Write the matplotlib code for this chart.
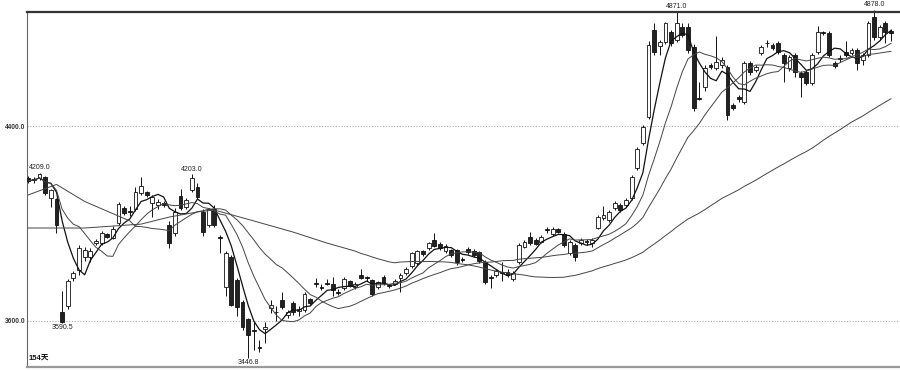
import numpy as np
import pandas as pd
import matplotlib
matplotlib.use("Agg")
import matplotlib.pyplot as plt

# daily OHLC, 154 sessions
opens = [4188, 4178, 4186, 4190, 4104, 4100, 3636, 3660, 3776, 3808,
         3862, 3860, 3920, 3920, 3955, 3940, 4002, 4063, 4049, 4059,
         4125, 4129, 4084, 4076, 4084, 3993, 3960, 4113, 4067, 4137,
         4150, 4047, 3993, 4059, 3946, 3738, 3862, 3767, 3677, 3607,
         3560, 3492, 3566, 3652, 3638, 3685, 3624, 3673, 3640, 3644,
         3689, 3757, 3740, 3757, 3751, 3720, 3734, 3763, 3738, 3788,
         3778, 3767, 3738, 3780, 3745, 3751, 3776, 3796, 3825, 3837,
         3886, 3899, 3932, 3915, 3886, 3890, 3890, 3852, 3895, 3886,
         3882, 3841, 3778, 3788, 3802, 3800, 3771, 3841, 3903, 3945,
         3932, 3924, 3975, 3957, 3977, 3957, 3878, 3911, 3920, 3926,
         3920, 3981, 4022, 4014, 4063, 4075, 4075, 4104, 4227, 4330,
         4437, 4794, 4729, 4745, 4786, 4753, 4807, 4807, 4725, 4517,
         4560, 4651, 4638, 4651, 4642, 4486, 4519, 4499, 4659, 4630,
         4700, 4743, 4733, 4741, 4692, 4638, 4692, 4618, 4622, 4577,
         4704, 4786, 4782, 4659, 4681, 4704, 4700, 4712, 4671, 4692,
         4848, 4766, 4823, 4790]
highs = [4196, 4192, 4209, 4195, 4142, 4106, 3722, 3770, 3805, 3910,
         3905, 3900, 3935, 3968, 3960, 3990, 4088, 4070, 4070, 4150,
         4190, 4135, 4118, 4100, 4092, 4010, 4065, 4140, 4104, 4203,
         4165, 4060, 4065, 4075, 3952, 3885, 3870, 3775, 3685, 3612,
         3596, 3520, 3596, 3685, 3660, 3718, 3645, 3680, 3660, 3718,
         3695, 3775, 3750, 3770, 3780, 3730, 3778, 3768, 3758, 3812,
         3785, 3773, 3765, 3786, 3752, 3770, 3795, 3820, 3884, 3892,
         3892, 3925, 3960, 3922, 3914, 3896, 3896, 3860, 3905, 3893,
         3888, 3850, 3790, 3812, 3840, 3812, 3805, 3918, 3930, 3965,
         3940, 3952, 3985, 3985, 3983, 3965, 3930, 3918, 3940, 3935,
         3940, 4035, 4070, 4055, 4092, 4082, 4104, 4198, 4315, 4405,
         4750, 4823, 4752, 4828, 4795, 4871, 4825, 4825, 4735, 4580,
         4650, 4660, 4770, 4685, 4650, 4495, 4528, 4668, 4668, 4650,
         4733, 4755, 4740, 4748, 4700, 4692, 4698, 4625, 4630, 4700,
         4812, 4792, 4790, 4668, 4690, 4748, 4720, 4720, 4700, 4830,
         4878, 4815, 4830, 4800]
lows = [4165, 4166, 4180, 4115, 4068, 3960, 3590.5, 3650, 3765, 3790,
        3845, 3840, 3912, 3912, 3940, 3935, 3995, 4036, 4030, 4050,
        4115, 4110, 4026, 4060, 4068, 3900, 3950, 4055, 4060, 4130,
        4100, 3948, 3985, 3985, 3880, 3700, 3660, 3620, 3560, 3446.8,
        3480, 3470, 3510, 3632, 3600, 3650, 3612, 3625, 3620, 3638,
        3665, 3740, 3728, 3745, 3700, 3705, 3725, 3738, 3730, 3770,
        3765, 3700, 3730, 3748, 3735, 3745, 3718, 3790, 3818, 3830,
        3868, 3892, 3902, 3892, 3880, 3862, 3830, 3840, 3876, 3862,
        3838, 3750, 3735, 3780, 3765, 3780, 3765, 3835, 3898, 3912,
        3910, 3918, 3960, 3950, 3960, 3905, 3870, 3845, 3912, 3912,
        3905, 3975, 4015, 4005, 4055, 4045, 4068, 4098, 4220, 4322,
        4430, 4690, 4690, 4738, 4730, 4745, 4765, 4700, 4460, 4505,
        4545, 4635, 4630, 4640, 4425, 4466, 4500, 4490, 4610, 4620,
        4690, 4725, 4712, 4695, 4580, 4625, 4600, 4520, 4570, 4570,
        4695, 4775, 4685, 4640, 4665, 4685, 4692, 4630, 4650, 4685,
        4755, 4755, 4740, 4750]
closes = [4175, 4182, 4203, 4125, 4137, 3993, 3594, 3762, 3796, 3900,
          3892, 3888, 3928, 3962, 3946, 3977, 4080, 4043, 4045, 4129,
          4153, 4117, 4109, 4088, 4076, 3920, 4047, 4063, 4096, 4186,
          4108, 3965, 4059, 3993, 3942, 3878, 3665, 3656, 3575, 3542,
          3556, 3488, 3574, 3664, 3634, 3656, 3636, 3636, 3648, 3710,
          3673, 3753, 3736, 3753, 3726, 3716, 3771, 3743, 3751, 3776,
          3774, 3710, 3759, 3755, 3741, 3763, 3788, 3812, 3878, 3886,
          3874, 3919, 3908, 3899, 3907, 3870, 3841, 3848, 3882, 3870,
          3845, 3759, 3774, 3804, 3798, 3788, 3796, 3911, 3924, 3920,
          3916, 3945, 3971, 3977, 3965, 3911, 3924, 3862, 3932, 3922,
          3932, 4026, 4034, 4047, 4084, 4055, 4096, 4190, 4305, 4396,
          4733, 4704, 4745, 4823, 4741, 4823, 4774, 4712, 4474, 4513,
          4638, 4642, 4663, 4671, 4445, 4474, 4511, 4659, 4622, 4642,
          4725, 4739, 4720, 4704, 4659, 4684, 4622, 4601, 4577, 4692,
          4786, 4782, 4692, 4647, 4677, 4692, 4712, 4659, 4692, 4823,
          4766, 4807, 4786, 4782]

# start of the slow averages (needs history before the visible window)
ma20_head_idx = [0, 5, 10, 15, 18]
ma20_head = [4117, 4160, 4090, 4040, 4010]
ma60_head_idx = [0, 10, 20, 25, 30, 33, 40, 47, 53, 58]
ma60_head = [3981, 3981, 3997, 4026, 4047, 4055, 4010, 3964, 3919, 3886]

# marked extremes: (index, price, above?)
marks = [(2, 4209.0, True), (6, 3590.5, False), (29, 4203.0, True),
         (39, 3446.8, False), (115, 4871.0, True), (150, 4878.0, True)]

df = pd.DataFrame({'open': opens, 'high': highs, 'low': lows, 'close': closes})
n = len(df)
x = np.arange(n)

ma5 = df['close'].rolling(5, min_periods=1).mean()
ma10 = df['close'].rolling(10, min_periods=1).mean()
ma20 = df['close'].rolling(20).mean()
ma60 = df['close'].rolling(60).mean()

fig = plt.figure(figsize=(9, 3.71), dpi=100)
ax = fig.add_axes([27 / 900, 4 / 371, 873 / 900, 355 / 371])

# wicks
ax.vlines(x, df['low'], df['high'], color='#111111', lw=0.7, zorder=2, clip_on=False)

up = df['close'] >= df['open']
body_lo = np.minimum(df['open'], df['close'])
body_h = np.maximum((df['close'] - df['open']).abs(), 1.0)
w = 0.68
ax.bar(x[up], body_h[up], bottom=body_lo[up], width=w, color='white',
       edgecolor='#111111', linewidth=0.6, zorder=3)
ax.bar(x[~up], body_h[~up], bottom=body_lo[~up], width=w, color='#222222',
       edgecolor='#111111', linewidth=0.6, zorder=3)

# moving averages
ax.plot(x, ma5, color='#111111', lw=0.9, zorder=4)
ax.plot(x, ma10, color='#444444', lw=0.7, zorder=4)
ax.plot(ma20_head_idx + list(x[19:]), ma20_head + list(ma20[19:]), color='#444444', lw=0.7, zorder=4)
ax.plot(ma60_head_idx + list(x[59:]), ma60_head + list(ma60[59:]), color='#444444', lw=0.7, zorder=4)

# grid at the labelled levels
for lvl in [3600, 4400]:
    ax.axhline(lvl, color='#aaaaaa', lw=0.8, ls=(0, (1, 1.5)), zorder=1)

for idx, val, above in marks:
    if above:
        ax.annotate('%.1f' % val, (idx, val), xytext=(0, 1), textcoords='offset points',
                    ha='center', va='bottom', fontsize=5, family='Liberation Sans',
                    color='#222222', annotation_clip=False)
    else:
        ax.annotate('%.1f' % val, (idx, val), xytext=(0, -1), textcoords='offset points',
                    ha='center', va='top', fontsize=5, family='Liberation Sans',
                    color='#222222', annotation_clip=False)

ax.text(0.002, 0.012, '154天', transform=ax.transAxes, fontsize=5.5, fontweight='bold',
        family=['Liberation Sans', 'Noto Sans CJK SC'], ha='left', va='bottom', color='#111111')

ax.set_xlim(-0.23, 154.6)
ax.set_ylim(3410, 4868.4)
ax.set_yticks([3600, 4400])
ax.set_yticklabels(['3600.0', '4400.0'], fontsize=4.8, fontweight='bold',
                   family='Liberation Sans', color='#333333')
ax.tick_params(axis='y', length=0, pad=1)
ax.set_xticks([])

ax.spines['right'].set_visible(False)
ax.spines['top'].set_color('#333333')
ax.spines['top'].set_linewidth(1.6)
ax.spines['left'].set_color('#666666')
ax.spines['left'].set_linewidth(0.8)
ax.spines['bottom'].set_color('#999999')
ax.spines['bottom'].set_linewidth(1.6)

fig.savefig('out.png', dpi=100)
